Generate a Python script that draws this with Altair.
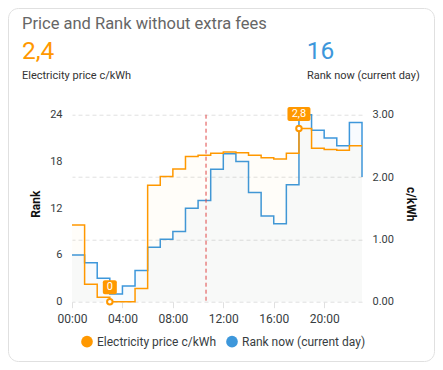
import json
import altair as alt
import pandas as pd

# ---------------- data ----------------
hours = list(range(24))
price = [1.23, 0.28, 0.07, 0.0, 0.0, 0.21, 1.87, 2.01, 2.13, 2.33, 2.35, 2.38,
         2.40, 2.39, 2.35, 2.31, 2.29, 2.38, 2.78, 2.46, 2.44, 2.43, 2.50, 2.50]
rank = [6, 5, 3, 1, 2, 4, 7, 8, 9, 12, 13, 17, 19, 18, 14, 11, 10, 15, 24, 22,
        21, 20, 23, 16]
series_names = ["Electricity price c/kWh", "Rank now (current day)"]
tick_hours = [0, 4, 8, 12, 16, 20]
tick_labels = ["00:00", "04:00", "08:00", "12:00", "16:00", "20:00"]
rank_ticks = [0, 6, 12, 18, 24]
price_ticks = [0, 1, 2, 3]
now_hour = [10.63]
ann_hours = [3, 18]
ann_values = [0.0, 2.78]
ann_texts = ["0", "2,8"]
ann_half_widths = [7, 11.5]
title_text = "Price and Rank without extra fees"
price_now_text = "2,4"
rank_now_text = "16"

ORANGE = "#ff9800"
BLUE = "#3d97db"
TXT = "#373d3f"
GRID = "#e0e0e0"
W, H = 290, 187

price_df = pd.DataFrame({"hour": hours, "value": price, "series": series_names[0]})
rank_df = pd.DataFrame({"hour": hours, "value": rank, "series": series_names[1]})
now_df = pd.DataFrame({"hour": now_hour})
one = pd.DataFrame({"a": [0]})

label_expr = f"{json.dumps(tick_labels)}[indexof({json.dumps(tick_hours)}, datum.value)]"
x_enc = alt.X("hour:Q",
              scale=alt.Scale(domain=[0, 23], nice=False, zero=False),
              axis=alt.Axis(values=tick_hours, labelExpr=label_expr, title=None,
                            grid=False, domain=False, ticks=True, tickSize=6,
                            tickColor=GRID, labelFontSize=12, labelColor=TXT,
                            labelPadding=6, labelFlush=False))

fill_enc = alt.Fill("series:N",
                    scale=alt.Scale(domain=series_names, range=[ORANGE, BLUE]),
                    legend=alt.Legend(orient="none", legendX=9, legendY=221,
                                      direction="horizontal", title=None,
                                      symbolType="circle", symbolSize=136,
                                      symbolStrokeWidth=0, symbolOpacity=1,
                                      labelFontSize=12, labelColor=TXT,
                                      labelOffset=4, columnPadding=10, padding=0))

# ------------- rank (left axis) -------------
y_rank = alt.Y("value:Q",
               scale=alt.Scale(domain=[0, 24], nice=False),
               axis=alt.Axis(orient="left", values=rank_ticks, title="Rank",
                             grid=False, domain=False, ticks=False,
                             labelPadding=10, labelFontSize=11, labelColor=TXT,
                             titleFontSize=12, titleFontWeight="bold",
                             titleColor="#111", titleX=-37, titleY=89,
                             titleAngle=270, titleBaseline="middle",
                             titleAlign="center"))
rank_base = alt.Chart(rank_df)
rank_area = rank_base.mark_area(interpolate="step-after", fillOpacity=0.035).encode(
    x=x_enc, y=y_rank, fill=fill_enc)
rank_line = rank_base.mark_line(interpolate="step-after", color=BLUE,
                                strokeWidth=1.5).encode(x=x_enc, y=y_rank)
rank_layer = alt.layer(rank_area, rank_line)

# ------------- price (right axis) -------------
y_price = alt.Y("value:Q",
                scale=alt.Scale(domain=[0, 3], nice=False),
                axis=alt.Axis(orient="right", values=price_ticks, format=".2f",
                              title="c/kWh", grid=True, gridColor=GRID,
                              gridDash=[4, 3], domain=False, ticks=False,
                              labelPadding=10, labelFontSize=11, labelColor=TXT,
                              titleFontSize=12, titleFontWeight="bold",
                              titleColor="#111", titleX=48, titleY=89,
                              titleAngle=90, titleBaseline="middle",
                              titleAlign="center"))
price_base = alt.Chart(price_df)
price_area = price_base.mark_area(interpolate="step-after", fillOpacity=0.025).encode(
    x=x_enc, y=y_price, fill=fill_enc)
price_line = price_base.mark_line(interpolate="step-after", color=ORANGE,
                                  strokeWidth=1.5).encode(x=x_enc, y=y_price)

now_rule = alt.Chart(now_df).mark_rule(color="#e04848", strokeDash=[4, 3],
                                       strokeWidth=1).encode(x=x_enc)

ann_layers = []
for h, v, t, hw in zip(ann_hours, ann_values, ann_texts, ann_half_widths):
    adf = pd.DataFrame({"hour": [h], "value": [v], "txt": [t]})
    base = alt.Chart(adf)
    box = base.mark_rect(color=ORANGE, xOffset=-hw, x2Offset=hw,
                         yOffset=-21.5, y2Offset=-7.5, cornerRadius=2).encode(
        x=x_enc, x2="hour", y=y_price, y2="value")
    lab = base.mark_text(color="white", fontSize=11, baseline="middle",
                         align="center", dy=-14.5).encode(
        x=x_enc, y=y_price, text="txt:N")
    mk = base.mark_point(shape="circle", filled=True, fill="white", stroke=ORANGE,
                         strokeWidth=2, size=30, opacity=1).encode(x=x_enc, y=y_price)
    ann_layers += [mk, box, lab]

price_layer = alt.layer(price_area, price_line, now_rule, *ann_layers)

# ------------- header / card -------------
card = alt.Chart(one).mark_rect(fillOpacity=0, stroke=GRID, strokeWidth=1,
                                cornerRadius=10).encode(
    x=alt.value(-63.5), x2=alt.value(362.5), y=alt.value(-106.2), y2=alt.value(246.8))
title = alt.Chart(one).mark_text(text=title_text, fontSize=16.5, color="#666666",
                                 align="left", baseline="alphabetic").encode(
    x=alt.value(-50), y=alt.value(-85.7))
price_now = alt.Chart(one).mark_text(text=price_now_text, fontSize=24.5, color=ORANGE,
                                     align="left", baseline="alphabetic").encode(
    x=alt.value(-50), y=alt.value(-55.4))
price_sub = alt.Chart(one).mark_text(text=series_names[0], fontSize=11, color="#333",
                                     align="left", baseline="alphabetic").encode(
    x=alt.value(-50), y=alt.value(-36))
rank_now = alt.Chart(one).mark_text(text=rank_now_text, fontSize=24.5, color=BLUE,
                                    align="left", baseline="alphabetic").encode(
    x=alt.value(234.7), y=alt.value(-55.4))
rank_sub = alt.Chart(one).mark_text(text=series_names[1], fontSize=11, color="#333",
                                    align="left", baseline="alphabetic").encode(
    x=alt.value(235), y=alt.value(-36))

chart = alt.layer(
    card, rank_layer, price_layer,
    title, price_now, price_sub, rank_now, rank_sub
).resolve_scale(y="independent").properties(
    width=W, height=H,
    autosize=alt.AutoSizeParams(type="none"),
    padding={"left": 64, "top": 106.7, "right": 73, "bottom": 60.3},
    background="white",
).configure(font="Roboto").configure_view(stroke=None)

chart.save("out.html", embed_options={"renderer": "svg", "actions": False})
